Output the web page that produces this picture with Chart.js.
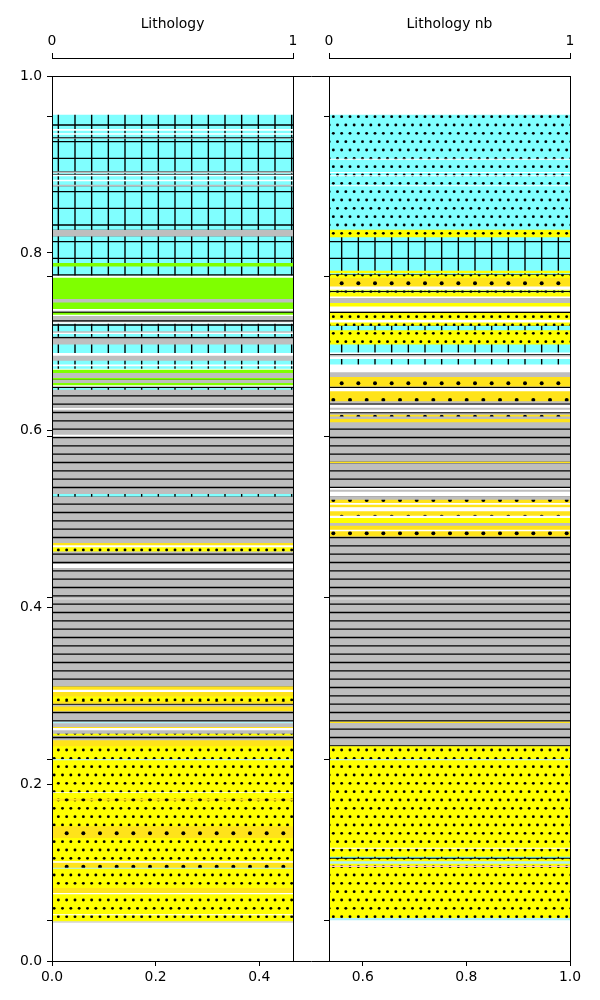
<!DOCTYPE html>
<html><head><meta charset="utf-8">
<script src="https://cdn.jsdelivr.net/npm/chart.js@4.4.1/dist/chart.umd.min.js"></script>
<style>
html,body{margin:0;padding:0;background:#fff;}
#wrap{position:relative;width:600px;height:1000px;}
canvas{position:absolute;left:0;top:0;}
</style></head><body>
<div id="wrap">
<canvas id="main" width="600" height="1000"></canvas>
<canvas id="t1" width="600" height="1000"></canvas>
<canvas id="t2" width="600" height="1000"></canvas>
</div>
<script>
// ---------------- data ----------------
const trackTitles = ['Lithology', 'Lithology nb'];
const depthTicks = [0.0463, 0.2282, 0.4102, 0.5921, 0.7729, 0.9548];

// layer boundaries (top to bottom) and lithology code for each layer
const lithBounds = [0.9559,0.9396,0.9379,0.9350,0.9333,0.9305,0.9288,0.8921,0.8898,0.8881,
  0.8864,0.8825,0.8806,0.8768,0.8749,0.8260,0.8184,0.7884,0.7845,0.7740,
  0.7718,0.7477,0.7438,0.7364,0.7345,0.7322,0.7299,0.7285,0.7215,0.7198,
  0.7111,0.7096,0.7081,0.7051,0.6961,0.6867,0.6836,0.6780,0.6735,0.6718,
  0.6689,0.6678,0.6641,0.6584,0.6565,0.6528,0.6501,0.6489,0.6471,0.6452,
  0.6245,0.6226,0.5944,0.5924,0.5273,0.5246,0.4720,0.4693,0.4672,0.4622,
  0.4483,0.4437,0.4098,0.4079,0.3099,0.3062,0.3036,0.2986,0.2930,0.2904,
  0.2873,0.2817,0.2701,0.2684,0.2641,0.2629,0.2605,0.2565,0.2542,0.2492,
  0.2422,0.2277,0.2266,0.1907,0.1896,0.1831,0.1808,0.1518,0.1386,0.1124,
  0.1107,0.1051,0.1040,0.0822,0.0765,0.0751,0.0525,0.0514,0.0446,0.0435];
const lithCodes = ['C','W','C','W','C','G','C','G','C','W',
  'C','W','C','G','C','G','C','Gr','C','W',
  'Gr','G','Gr','W','G','Gr','W','G','W','C',
  'G','W','C','G','C','W','G','C','W','C',
  'W','Gr','G','Gr','G','Gr','W','G','C','G',
  'W','G','W','G','C','G','Gd','W','Y','G',
  'W','G','S','G','Gd','W','Gd','Y','Gd','G',
  'Gd','G','LB','G','Gd','W','G','Y','G','Gd',
  'Y','LB','Y','W','Y','Gd','Y','Gd','Y','W',
  'Gd','LB','Y','Gd','W','Y','W','Y','S'];

const lithNbBounds = [0.9559,0.9062,0.9051,0.8912,0.8901,0.8876,0.8864,0.8763,0.8751,0.8260,
  0.8173,0.7797,0.7768,0.7751,0.7714,0.7619,0.7582,0.7571,0.7554,0.7506,
  0.7488,0.7432,0.7393,0.7337,0.7319,0.7243,0.7212,0.7175,0.7122,0.6961,
  0.6873,0.6855,0.6828,0.6799,0.6735,0.6648,0.6596,0.6489,0.6471,0.6433,
  0.6320,0.6282,0.6249,0.6226,0.6196,0.6170,0.6150,0.6121,0.6083,0.5638,
  0.5624,0.5341,0.5322,0.5299,0.5246,0.5209,0.5172,0.5153,0.5124,0.5077,
  0.5028,0.5002,0.4946,0.4915,0.4870,0.4851,0.4794,0.4096,0.4079,0.2701,
  0.2686,0.2422,0.2277,0.2266,0.1277,0.1266,0.1175,0.1153,0.1122,0.1096,
  0.1073,0.1059,0.0483,0.0463];
const lithNbCodes = ['Cd','W','Cd','W','Cd','W','Cd','W','Cd','Y',
  'C','Y','C','Y','Gd','W','Y','C','Y','W',
  'G','Y','W','G','Y','W','Y','C','Y','C',
  'W','G','W','C','W','G','Gd','G','W','Gd',
  'G','W','G','W','G','Gd','G','Gd','G','Gd',
  'G','W','G','W','G','Gd','W','Gd','W','Gd',
  'W','Y','G','Gd','W','Gd','G','S','G','Gd',
  'G','Y','LB','Y','W','Y','C','Y','LB','Y',
  'P','Y','LB'];

// ---------------- styles ----------------
const lithStyle = {
  C:  {color:'#80ffff', hatch:'grid'},
  Cd: {color:'#80ffff', hatch:'dots'},
  Y:  {color:'#ffff00', hatch:'dots'},
  Gd: {color:'#ffe31a', hatch:'bigdots'},
  G:  {color:'#bebebe', hatch:'lines'},
  Gr: {color:'#7fff00', hatch:null},
  W:  {color:'#ffffff', hatch:null},
  S:  {color:'#d3d3d3', hatch:null},
  LB: {color:'#b0f0f8', hatch:null},
  P:  {color:'#ffc0cb', hatch:null}
};
const HATCH_LW = 1.39;
const TILE = 100;
function hatchDraw(kind, g) {
  g.strokeStyle = '#000'; g.fillStyle = '#000'; g.lineWidth = HATCH_LW;
  if (kind === 'grid') {
    for (let k = 0; k < 6; k++) {
      const p = (k + 0.5) * TILE / 6;
      g.beginPath(); g.moveTo(p, 0); g.lineTo(p, TILE); g.moveTo(0, p); g.lineTo(TILE, p); g.stroke();
    }
  } else if (kind === 'lines') {
    for (let k = 0; k < 12; k++) {
      const p = (k + 0.5) * TILE / 12;
      g.beginPath(); g.moveTo(0, p); g.lineTo(TILE, p); g.stroke();
    }
  } else if (kind === 'dots' || kind === 'bigdots') {
    const n = kind === 'dots' ? 12 : 6;
    const r = kind === 'dots' ? 1.45 : 2.0;
    const s = TILE / n;
    for (let j = 0; j <= n; j++) {
      const off = (j % 2) ? s / 2 : 0;
      for (let k = -1; k <= n; k++) {
        g.beginPath(); g.arc(k * s + off, j * s, r, 0, Math.PI * 2); g.fill();
      }
    }
  }
}
const fills = {};
Object.keys(lithStyle).forEach(code => {
  const st = lithStyle[code];
  if (!st.hatch) { fills[code] = st.color; return; }
  const c = document.createElement('canvas'); c.width = TILE; c.height = TILE;
  const g = c.getContext('2d');
  g.fillStyle = st.color; g.fillRect(0, 0, TILE, TILE);
  hatchDraw(st.hatch, g);
  fills[code] = g.createPattern(c, 'repeat');
});

// ---------------- common ----------------
const FONT = {family: "'DejaVu Sans', sans-serif", size: 13.9};
Chart.defaults.font.family = FONT.family;
Chart.defaults.font.size = FONT.size;
Chart.defaults.color = '#000';
const BORDER = {display: true, color: '#000', width: 1, z: 1};
const frameScale = (pos, size) => ({
  type: 'linear', position: pos, min: 0, max: 1, offset: false,
  ticks: {display: false}, grid: {display: false, drawTicks: false, offset: false},
  border: BORDER,
  afterFit: s => { if (s.isHorizontal()) s.height = size; else s.width = size; }
});

// ---------------- main frame chart ----------------
new Chart(document.getElementById('main'), {
  type: 'scatter',
  data: {datasets: []},
  options: {
    responsive: false, animation: false, events: [],
    layout: {padding: {left: 0, top: 76, right: 30, bottom: 0}},
    plugins: {legend: {display: false}, tooltip: {enabled: false}},
    scales: {
      x: {type: 'linear', position: 'bottom', min: 0, max: 1, offset: false,
        ticks: {stepSize: 0.2, padding: 3, color: '#000', font: FONT, maxRotation: 0,
          callback: v => v.toFixed(1)},
        grid: {drawOnChartArea: false, tickLength: 5, tickColor: '#000', tickWidth: 1},
        border: BORDER, afterFit: s => { s.height = 39; }},
      y: {type: 'linear', position: 'left', min: 0, max: 1,
        ticks: {stepSize: 0.2, padding: 5, color: '#000', font: FONT,
          callback: v => v.toFixed(1)},
        grid: {drawOnChartArea: false, tickLength: 5, tickColor: '#000', tickWidth: 1},
        border: BORDER, afterFit: s => { s.width = 52; }},
      x2: frameScale('top', 0),
      y2: frameScale('right', 0)
    }
  }
});

// ---------------- lithology tracks ----------------
function makeTrack(id, title, bounds, codes, left, right) {
  const data = codes.map((c, i) => ({x: title, y: [bounds[i + 1], bounds[i]]}));
  new Chart(document.getElementById(id), {
    type: 'bar',
    data: {datasets: [{
      data,
      backgroundColor: ctx => (ctx.dataIndex !== undefined ? fills[codes[ctx.dataIndex]] : '#fff'),
      borderWidth: 0, categoryPercentage: 1, barPercentage: 1
    }]},
    options: {
      responsive: false, animation: false, events: [],
      layout: {padding: {left: left - 8, right: 600 - right, top: 16, bottom: 39}},
      plugins: {legend: {display: false}, tooltip: {enabled: false}},
      scales: {
        x: {type: 'category', labels: [title], display: false},
        gap: Object.assign(frameScale('top', 18), {weight: 0}),
        trackTop: {type: 'linear', position: 'top', min: 0, max: 1, weight: 1, offset: false,
          ticks: {stepSize: 1, padding: 3, color: '#000', font: FONT, maxRotation: 0},
          grid: {drawOnChartArea: false, offset: false, tickLength: 5, tickColor: '#000', tickWidth: 1},
          border: BORDER,
          title: {display: true, text: title, color: '#000', font: FONT, padding: 0},
          afterFit: s => { s.height = 42; }},
        y: {type: 'linear', position: 'left', min: 0, max: 1,
          ticks: {display: false},
          afterBuildTicks: s => { s.ticks = depthTicks.map(v => ({value: v})); },
          grid: {drawOnChartArea: false, tickLength: 5, tickColor: '#000', tickWidth: 1},
          border: BORDER, afterFit: s => { s.width = 8; }},
        yR: frameScale('right', 0),
        xB: frameScale('bottom', 0)
      }
    }
  });
}
makeTrack('t1', trackTitles[0], lithBounds, lithCodes, 52, 293);
makeTrack('t2', trackTitles[1], lithNbBounds, lithNbCodes, 329, 570);
</script>
</body></html>
